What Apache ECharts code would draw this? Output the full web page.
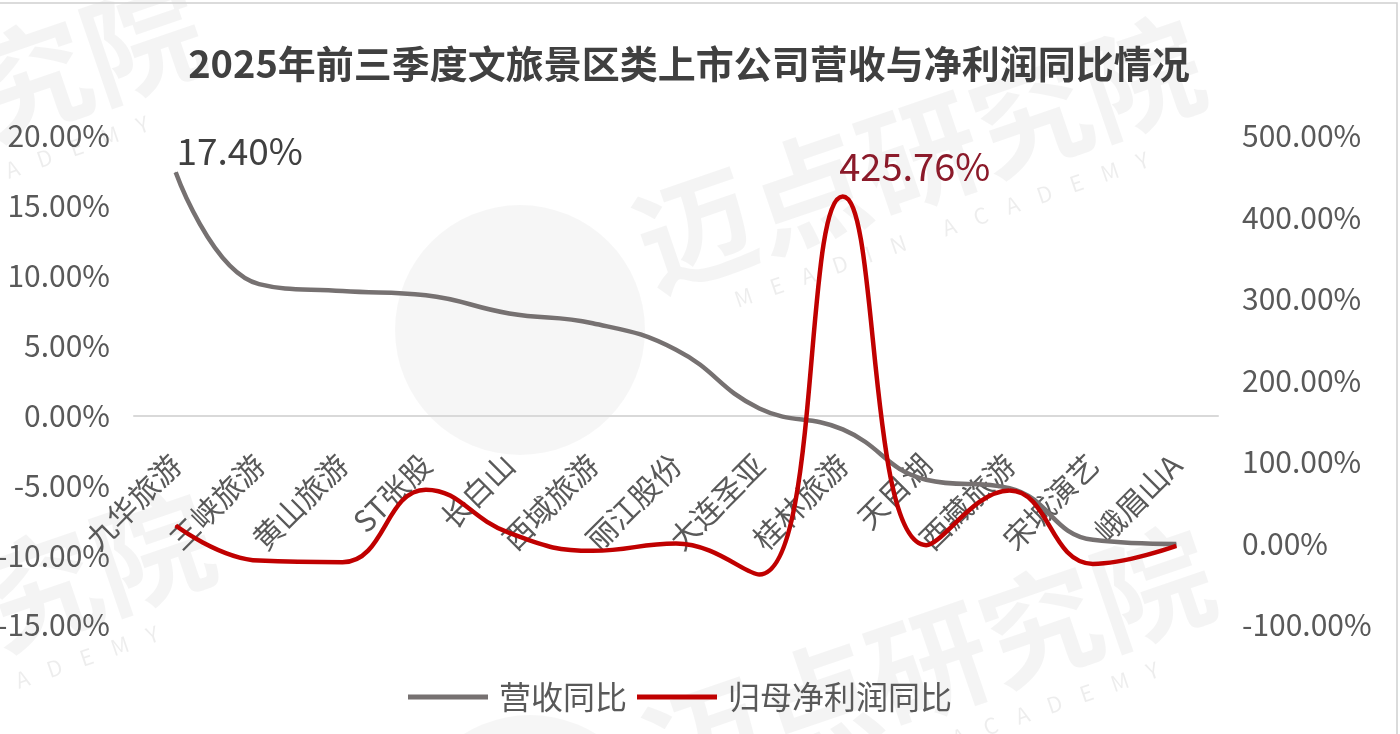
<!DOCTYPE html>
<html><head><meta charset="utf-8">
<script src="https://cdn.jsdelivr.net/npm/echarts@6/dist/echarts.min.js"></script>
<style>html,body{margin:0;padding:0;background:#fff}#c{width:1400px;height:734px}</style>
</head><body><div id="c"></div>
<script>
// ---- data ----
const categories = ['九华旅游','三峡旅游','黄山旅游','ST张股','长白山','西域旅游','丽江股份','大连圣亚','桂林旅游','天目湖','西藏旅游','宋城演艺','峨眉山A'];
const revenueYoY = [17.40, 9.4, 8.9, 8.6, 7.3, 6.6, 4.7, 0.5, -1.0, -4.6, -5.2, -8.9, -9.2];
const profitYoY  = [22, -21, -23, 66, 13, -9, 0, -38, 425.76, -2, 65, -25, -3];
const seriesNames = ['营收同比', '归母净利润同比'];
const leftAxisTicks  = { min: -15, max: 20, interval: 5 };
const rightAxisTicks = { min: -100, max: 500, interval: 100 };
const revenueLabelIndex = 0;
const profitLabelIndex = 8;
const titleText = '2025年前三季度文旅景区类上市公司营收与净利润同比情况';

// ---- chart ----
const FONT = '"Noto Sans CJK SC", "Noto Sans", sans-serif';
const pct = v => v.toFixed(2) + '%';

function withLabel(values, idx, labelCfg) {
  return values.map((v, i) => i === idx ? { value: v, label: labelCfg } : v);
}

// layout
const GRID = { left: 134, right: 182, top: 136, bottom: 109 };
const gridH = 734 - GRID.top - GRID.bottom;
// x axis sits on the left axis' zero line
const zeroOffset = -gridH * (0 - leftAxisTicks.min) / (leftAxisTicks.max - leftAxisTicks.min);

// watermark
const wmColor = 'rgba(0,0,0,0.045)';
const wmAngle = 0.33;
function watermark(x, y) {
  return [
    { type: 'circle', shape: { cx: x - 120, cy: y + 81, r: 125 }, style: { fill: 'rgba(0,0,0,0.035)' }, z: -10, silent: true },
    { type: 'text', x: x, y: y, rotation: wmAngle, z: -10, silent: true,
      style: { text: '迈点研究院', font: 'bold 118px ' + FONT, fill: wmColor, verticalAlign: 'middle', align: 'left' } },
    { type: 'text', x: x + 95, y: y + 51, rotation: wmAngle, z: -10, silent: true,
      style: { text: 'M    E    A    D    I    N        A    C    A    D    E    M    Y', font: '22px ' + FONT, fill: 'rgba(0,0,0,0.07)', verticalAlign: 'middle', align: 'left' } }
  ];
}
const graphics = [].concat(
  watermark(640, 249), watermark(-360, 213), watermark(-350, 723), watermark(650, 759),
  [{ type: 'rect', shape: { x: -2, y: 3, width: 1399, height: 800 }, style: { fill: 'none', stroke: '#d0d0d0', lineWidth: 1.5 }, z: -5, silent: true }]
);

const chart = echarts.init(document.getElementById('c'));
chart.setOption({
  animation: false,
  backgroundColor: '#fff',
  graphic: graphics,
  title: {
    text: titleText, left: 684, top: 40, textAlign: 'center',
    textStyle: { fontFamily: FONT, fontSize: 38, fontWeight: 'bold', color: '#404040' }
  },
  legend: {
    data: seriesNames, left: 403, top: 676,
    icon: 'rect', itemWidth: 80, itemHeight: 5, itemGap: 10,
    textStyle: { fontFamily: FONT, fontSize: 32, color: '#595959', padding: [0, 0, 0, 6] }
  },
  grid: Object.assign({ outerBoundsMode: 'none', containLabel: false }, GRID),
  xAxis: {
    type: 'category', data: categories, boundaryGap: true,
    position: 'bottom', offset: zeroOffset,
    axisLine: { onZero: false, lineStyle: { color: '#d9d9d9', width: 2 } },
    axisTick: { show: false },
    axisLabel: { interval: 0, rotate: 45, margin: 44, fontFamily: FONT, fontSize: 30, color: '#595959' }
  },
  yAxis: [
    { type: 'value', position: 'left', min: leftAxisTicks.min, max: leftAxisTicks.max, interval: leftAxisTicks.interval,
      axisLine: { show: false }, axisTick: { show: false }, splitLine: { show: false },
      axisLabel: { formatter: pct, fontFamily: FONT, fontSize: 30, color: '#595959', margin: 24 } },
    { type: 'value', position: 'right', min: rightAxisTicks.min, max: rightAxisTicks.max, interval: rightAxisTicks.interval,
      axisLine: { show: false }, axisTick: { show: false }, splitLine: { show: false },
      axisLabel: { formatter: pct, fontFamily: FONT, fontSize: 30, color: '#595959', margin: 24 } }
  ],
  series: [
    { name: seriesNames[0], type: 'line', yAxisIndex: 0, smooth: 0.45,
      symbol: 'circle', symbolSize: 1, showSymbol: true,
      itemStyle: { color: '#767171' }, lineStyle: { color: '#767171', width: 4.5 },
      data: withLabel(revenueYoY, revenueLabelIndex, {
        show: true, position: 'top', offset: [64, 3], formatter: p => pct(p.value),
        fontFamily: FONT, fontSize: 37, color: '#404040' }) },
    { name: seriesNames[1], type: 'line', yAxisIndex: 1, smooth: 0.45,
      symbol: 'circle', symbolSize: 1, showSymbol: true,
      itemStyle: { color: '#C00000' }, lineStyle: { color: '#C00000', width: 4.5 },
      data: withLabel(profitYoY, profitLabelIndex, {
        show: true, position: 'top', offset: [72, -5], formatter: p => pct(p.value),
        fontFamily: FONT, fontSize: 38, color: '#8B1A2A' }) }
  ]
});
</script>
</body></html>
